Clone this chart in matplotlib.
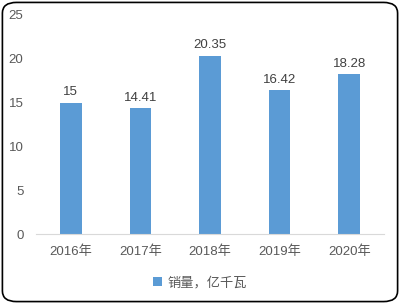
import matplotlib
matplotlib.use("Agg")
import matplotlib.pyplot as plt
from matplotlib.patches import FancyBboxPatch

plt.rcParams['font.family'] = ['Liberation Sans', 'Noto Sans CJK SC', 'DejaVu Sans']

categories = ["2016年", "2017年", "2018年", "2019年", "2020年"]
values = [15, 14.41, 20.35, 16.42, 18.28]
labels = ["15", "14.41", "20.35", "16.42", "18.28"]
series_name = "销量，亿千瓦"
yticks = [0, 5, 10, 15, 20, 25]

color = "#5B9BD5"
txt = "#595959"

fig = plt.figure(figsize=(4, 3.04), dpi=100)
ax = fig.add_axes([0.09, 0.23, 0.87, 0.721])
x = list(range(len(categories)))
bars = ax.bar(x, values, width=0.31, color=color, label=series_name, zorder=2)
for xi, v, lab in zip(x, values, labels):
    ax.annotate(lab, (xi, v), xytext=(0, 3), textcoords="offset points",
                ha="center", va="bottom", fontsize=9.5, color="#404040")

ax.set_xlim(-0.5, len(categories) - 0.5)
ax.set_ylim(0, 25)
ax.set_yticks(yticks)
ax.set_xticks(x)
ax.set_xticklabels(categories)
for s in ["top", "right", "left"]:
    ax.spines[s].set_visible(False)
ax.spines["bottom"].set_color("#D9D9D9")
ax.tick_params(axis="both", length=0, labelsize=9.5, colors=txt)
ax.tick_params(axis="y", pad=9)
ax.tick_params(axis="x", pad=8)

leg = fig.legend(handles=[bars], labels=[series_name], loc="center",
                 bbox_to_anchor=(0.5, 0.069), frameon=False, fontsize=9.5,
                 handlelength=0.7, handleheight=0.7, handletextpad=0.4)
for t in leg.get_texts():
    t.set_color(txt)

border = FancyBboxPatch((0.006, 0.008), 0.988, 0.984,
                        boxstyle="round,pad=0,rounding_size=0.035",
                        transform=fig.transFigure, fill=False,
                        edgecolor="black", linewidth=1.2)
fig.patches.append(border)

fig.savefig("out.png", dpi=100)
